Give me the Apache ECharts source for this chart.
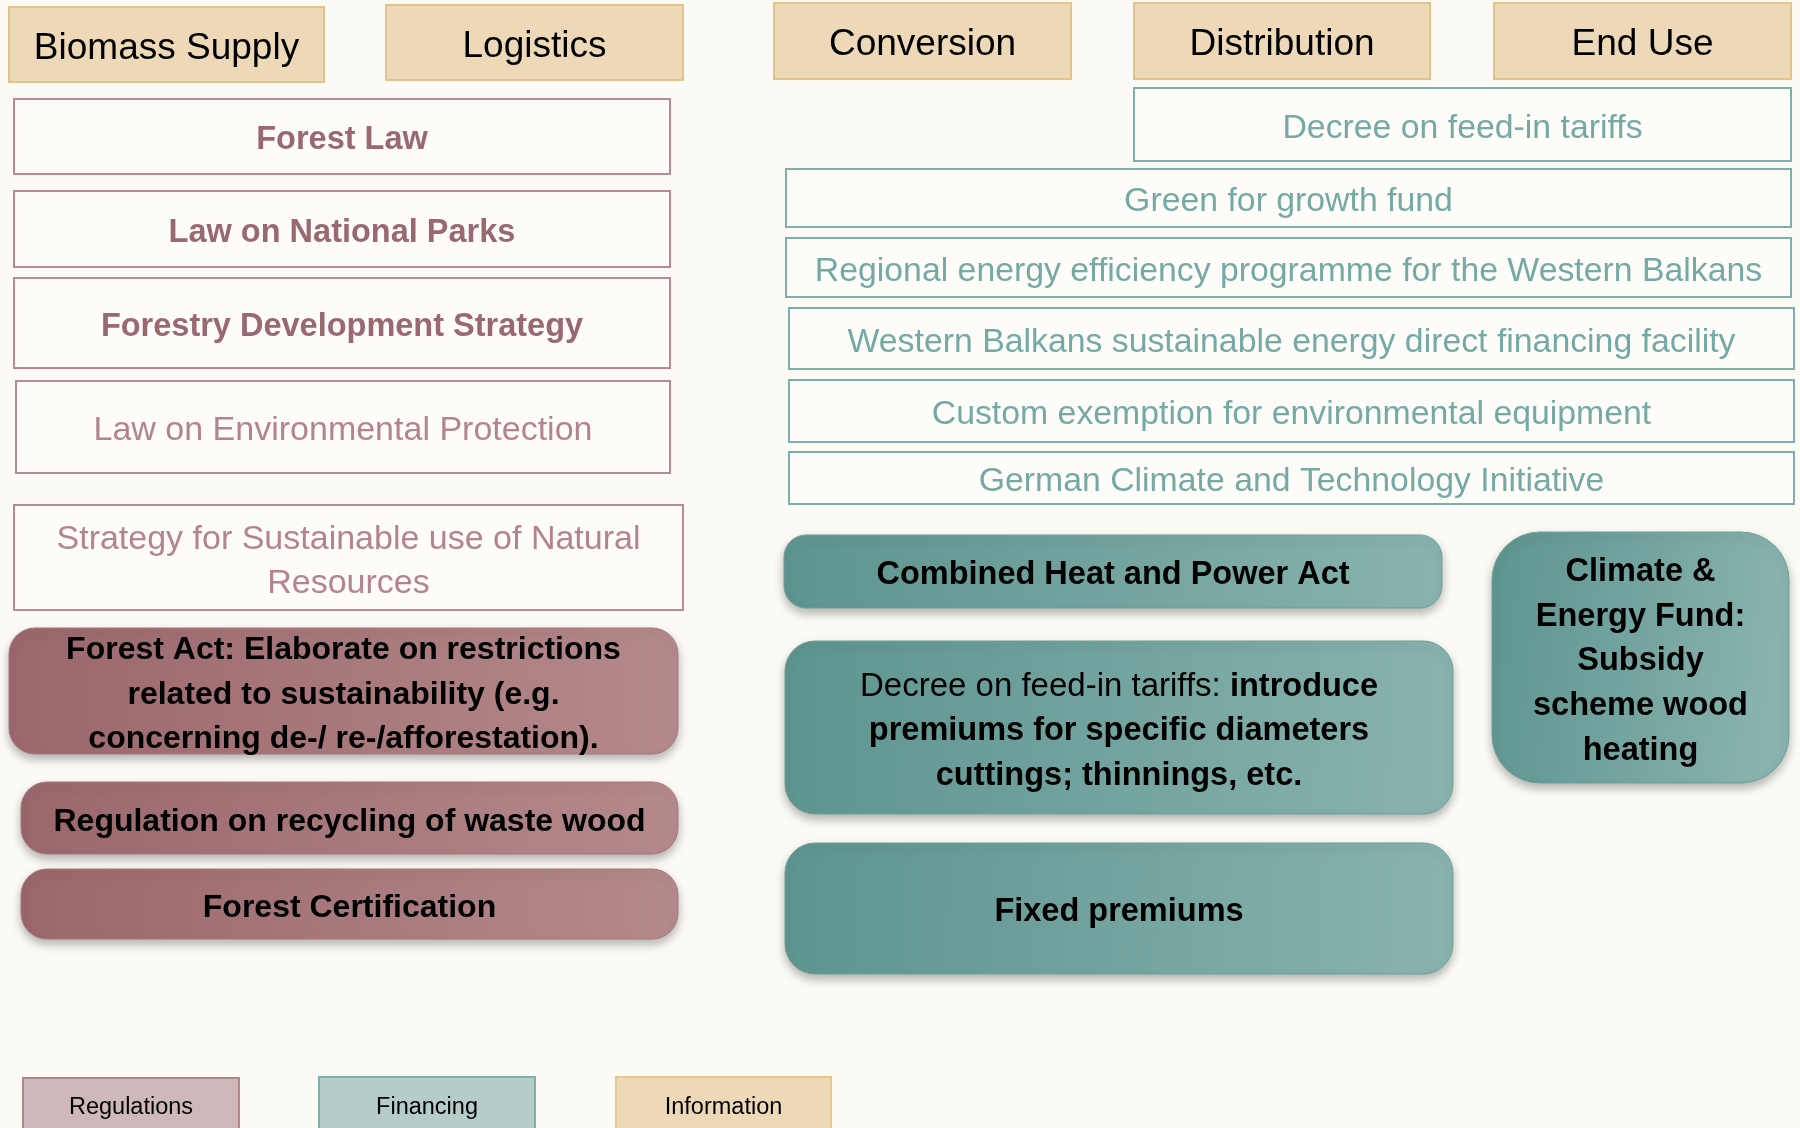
<!DOCTYPE html>
<html>
<head>
<meta charset="utf-8">
<script src="https://cdn.jsdelivr.net/npm/echarts@6/dist/echarts.min.js"></script>
<style>
html,body{margin:0;padding:0;background:#FCFAF5;}
#chart{width:1800px;height:1128px;}
</style>
</head>
<body>
<div id="chart"></div>
<script>
// ---------- content (text data) ----------
const stages = ['Biomass Supply', 'Logistics', 'Conversion', 'Distribution', 'End Use'];
const regulationLaws = [
  'Forest Law',
  'Law on National Parks',
  'Forestry Development Strategy',
  'Law on Environmental Protection',
  'Strategy for Sustainable use of Natural\nResources'
];
const regulationMeasures = [
  'Forest Act: Elaborate on restrictions\nrelated to sustainability (e.g.\nconcerning de-/ re-/afforestation).',
  'Regulation on recycling of waste wood',
  'Forest Certification'
];
const financingPrograms = [
  'Decree on feed-in tariffs',
  'Green for growth fund',
  'Regional energy efficiency programme for the Western Balkans',
  'Western Balkans sustainable energy direct financing facility',
  'Custom exemption for environmental equipment',
  'German Climate and Technology Initiative'
];
const financingMeasures = [
  'Combined Heat and Power Act',
  'Decree on feed-in tariffs: introduce\npremiums for specific diameters\ncuttings; thinnings, etc.',
  'Fixed premiums',
  'Climate &\nEnergy Fund:\nSubsidy\nscheme wood\nheating'
];
const legendItems = ['Regulations', 'Financing', 'Information'];

// ---------- layout (box extents in axis units, x0,y0,x1,y1) ----------
const stageBoxes = [[9,7,324,82],[386,5,683,80],[774,3,1071,79],[1134,3,1430,79],[1494,3,1791,79]];
const lawBoxes = [[14,99,670,174],[14,191,670,267],[14,278,670,368],[16,381,670,473],[14,505,683,610]];
const lawWeights = ['bold','bold','bold','normal','normal'];
const measureBoxes = [[9,628,678,754],[21,782,678,854],[21,869,678,939]];
const programBoxes = [[1134,88,1791,161],[786,169,1791,227],[786,238,1791,297],[789,308,1794,369],[789,380,1794,442],[789,452,1794,504]];
const finMeasureBoxes = [[784,535,1442,608],[785,641,1453,814],[785,843,1453,974],[1492,532,1789,783]];
const finMeasureRadius = [22,30,30,48];
const legendBoxes = [[23,1078,239,1134],[319,1077,535,1134],[616,1077,831,1134]];

const FONT = '"Liberation Sans", Arial, sans-serif';
const TEXT_SHIFT = 4;

function boxSeries(name, boxes, texts, styleFn) {
  return {
    type: 'custom',
    name: name,
    coordinateSystem: 'cartesian2d',
    silent: true,
    clip: false,
    data: boxes.map(b => b.slice()),
    encode: { x: [0, 2], y: [1, 3] },
    renderItem: function (params, api) {
      const i = params.dataIndex;
      const p0 = api.coord([api.value(0), api.value(1)]);
      const p1 = api.coord([api.value(2), api.value(3)]);
      const x = Math.min(p0[0], p1[0]), y = Math.min(p0[1], p1[1]);
      const w = Math.abs(p1[0] - p0[0]), h = Math.abs(p1[1] - p0[1]);
      const s = styleFn(i, texts[i]);
      return {
        type: 'group',
        children: [
          {
            type: 'rect',
            shape: { x: x, y: y, width: w, height: h, r: s.r || 0 },
            style: s.rect
          },
          {
            type: 'text',
            style: Object.assign({
              text: s.text !== undefined ? s.text : texts[i],
              x: x + w / 2,
              y: (s.textY !== undefined ? api.coord([0, s.textY])[1] : y + h / 2) + (s.shift !== undefined ? s.shift : TEXT_SHIFT),
              align: 'center',
              verticalAlign: 'middle',
              fontFamily: FONT
            }, s.textStyle)
          }
        ]
      };
    }
  };
}

const regGrad = () => new echarts.graphic.LinearGradient(0, 0, 1, 0, [
  { offset: 0, color: '#9A676C' },
  { offset: 1, color: '#B58A8C' }
]);
const finGrad = () => new echarts.graphic.LinearGradient(0, 0, 1, 0.15, [
  { offset: 0, color: '#5E948F' },
  { offset: 1, color: '#89B3AE' }
]);
const shadow = { shadowBlur: 10, shadowOffsetY: 5, shadowColor: 'rgba(0,0,0,0.28)' };

const series = [
  boxSeries('stages', stageBoxes, stages, () => ({
    rect: { fill: '#EDD8B8', stroke: '#E2C38B', lineWidth: 2 },
    textStyle: { fontSize: 37, fill: '#000' }
  })),
  boxSeries('laws', lawBoxes, regulationLaws, (i) => ({
    rect: { fill: '#FDFCF9', stroke: '#B98A8F', lineWidth: 2 },
    textStyle: {
      fontSize: lawWeights[i] === 'bold' ? 32.5 : 34,
      fontWeight: lawWeights[i],
      fill: lawWeights[i] === 'bold' ? '#9A6970' : '#B3858B',
      lineHeight: 44
    }
  })),
  boxSeries('measures', measureBoxes, regulationMeasures, () => ({
    r: 26,
    rect: Object.assign({ fill: regGrad(), stroke: '#A8787C', lineWidth: 1 }, shadow),
    textStyle: { fontSize: 32, fontWeight: 'bold', fill: '#000', lineHeight: 44.5 }
  })),
  boxSeries('programs', programBoxes, financingPrograms, () => ({
    rect: { fill: '#FDFCF9', stroke: '#7EB0AA', lineWidth: 2 },
    textStyle: { fontSize: 33.8, fill: '#75A9A3' }
  })),
  boxSeries('finMeasures', finMeasureBoxes, financingMeasures, (i, t) => {
    const st = { fontSize: 32.5, fontWeight: 'bold', fill: '#000', lineHeight: 44.8 };
    let text;
    if (i === 1 && t.indexOf(': ') > 0) {
      const k = t.indexOf(': ') + 2;
      const head = t.slice(0, k);
      const rest = t.slice(k).split('\n');
      text = '{n|' + head + '}{b|' + rest[0] + '}\n' + rest.slice(1).map(r => '{b|' + r + '}').join('\n');
      st.rich = {
        n: { fontSize: 33, fontWeight: 'normal', fontFamily: FONT, fill: '#000', lineHeight: 44.8 },
        b: { fontSize: 32.5, fontWeight: 'bold', fontFamily: FONT, fill: '#000', lineHeight: 44.8 }
      };
    }
    return {
      r: finMeasureRadius[i],
      text: text,
      rect: Object.assign({ fill: finGrad(), stroke: '#6FA19B', lineWidth: 1 }, shadow),
      textStyle: st
    };
  }),
  boxSeries('legend', legendBoxes, legendItems, (i) => ({
    rect: [
      { fill: '#CFB8BA', stroke: '#B08588', lineWidth: 2 },
      { fill: '#B5CCC9', stroke: '#7EAFA9', lineWidth: 2 },
      { fill: '#EDD8B8', stroke: '#E4C68F', lineWidth: 2 }
    ][i],
    textY: 1106,
    shift: 2,
    textStyle: { fontSize: 23.5, fill: '#000' }
  }))
];

const chart = echarts.init(document.getElementById('chart'), null, { renderer: 'canvas' });
chart.setOption({
  backgroundColor: '#FCFAF5',
  animation: false,
  grid: { left: 0, right: 0, top: 0, bottom: 0 },
  xAxis: { type: 'value', min: 0, max: 1800, show: false },
  yAxis: { type: 'value', min: 0, max: 1128, inverse: true, show: false },
  series: series
});
</script>
</body>
</html>
